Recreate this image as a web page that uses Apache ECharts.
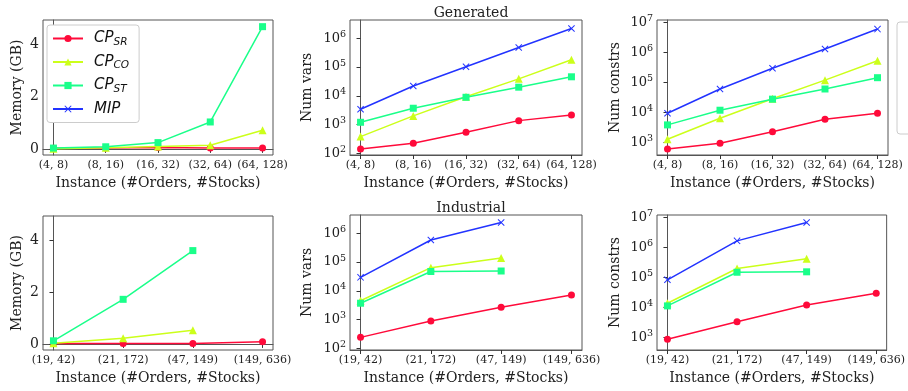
<!DOCTYPE html>
<html><head><meta charset="utf-8">
<script src="https://cdn.jsdelivr.net/npm/echarts@6/dist/echarts.min.js"></script>
<style>html,body{margin:0;padding:0;background:#fff}#c{width:908px;height:391px}</style>
</head><body><div id="c"></div>
<script>
// ---------- data ----------
const genCats = ['(4, 8)', '(8, 16)', '(16, 32)', '(32, 64)', '(64, 128)'];
const indCats = ['(19, 42)', '(21, 172)', '(47, 149)', '(149, 636)'];
const seriesNames = ['CP_SR', 'CP_CO', 'CP_ST', 'MIP'];

const genMemSR = [0.02, 0.03, 0.05, 0.03, 0.03];
const genMemCO = [0.0, 0.04, 0.09, 0.14, 0.71];
const genMemST = [0.03, 0.08, 0.24, 1.03, 4.68];

const genVarsSR = [141, 223, 540, 1370, 2150];
const genVarsCO = [380, 2000, 9300, 39000, 180000];
const genVarsST = [1200, 3700, 8900, 20000, 46000];
const genVarsMIP = [3400, 22000, 103000, 480000, 2200000];

const genConsSR = [615, 950, 2300, 6000, 9500];
const genConsCO = [1300, 6500, 29000, 120000, 530000];
const genConsST = [3900, 12000, 28000, 61000, 145000];
const genConsMIP = [9500, 61000, 300000, 1300000, 6000000];

const indMemSR = [0.02, 0.02, 0.02, 0.08];
const indMemCO = [0.03, 0.22, 0.53];
const indMemST = [0.12, 1.72, 3.60];

const indVarsSR = [240, 890, 2700, 7200];
const indVarsCO = [4500, 64000, 140000];
const indVarsST = [3700, 47000, 49000];
const indVarsMIP = [29500, 590000, 2400000];

const indConsSR = [880, 3400, 12200, 30000];
const indConsCO = [14000, 200000, 420000];
const indConsST = [11400, 150000, 155000];
const indConsMIP = [84000, 1660000, 6800000];

const memTicks = [0, 2, 4];
const varsTicks = [100, 1000, 10000, 100000, 1000000];
const consTicks = [1000, 10000, 100000, 1000000, 10000000];

// ---------- styles ----------
const colors = ['#ff0a3a', '#ccff1a', '#1aff8a', '#2233ff'];
const symbols = ['circle', 'triangle', 'rect',
  'path://M0,1L1,0L5,4L9,0L10,1L6,5L10,9L9,10L5,6L1,10L0,9L4,5Z'];
const symbolSizes = [7, 8, 7, 7];
const serif = 'DejaVu Serif';
const spine = '#555';

const panels = [
  {l: 43, t: 20, w: 230, h: 135, cats: genCats, log: false, ymin: -0.235, ymax: 4.935, ticks: memTicks,
   name: 'Memory (GB)', gap: 19, data: [genMemSR, genMemCO, genMemST, null]},
  {l: 350, t: 20, w: 232, h: 135, cats: genCats, log: true, ymin: Math.pow(10, 1.94), ymax: Math.pow(10, 6.64), ticks: varsTicks,
   name: 'Num vars', gap: 36, data: [genVarsSR, genVarsCO, genVarsST, genVarsMIP]},
  {l: 657, t: 20, w: 231, h: 135, cats: genCats, log: true, ymin: Math.pow(10, 2.59), ymax: Math.pow(10, 7.08), ticks: consTicks,
   name: 'Num constrs', gap: 35, data: [genConsSR, genConsCO, genConsST, genConsMIP]},
  {l: 43, t: 216, w: 230, h: 134, cats: indCats, log: false, ymin: -0.235, ymax: 4.935, ticks: memTicks,
   name: 'Memory (GB)', gap: 19, data: [indMemSR, indMemCO, indMemST, null]},
  {l: 350, t: 215, w: 232, h: 135, cats: indCats, log: true, ymin: Math.pow(10, 1.94), ymax: Math.pow(10, 6.64), ticks: varsTicks,
   name: 'Num vars', gap: 36, data: [indVarsSR, indVarsCO, indVarsST, indVarsMIP]},
  {l: 657, t: 215, w: 231, h: 135, cats: indCats, log: true, ymin: Math.pow(10, 2.59), ymax: Math.pow(10, 7.08), ticks: consTicks,
   name: 'Num constrs', gap: 35, data: [indConsSR, indConsCO, indConsST, indConsMIP]}
];

const grid = [], xAxis = [], yAxis = [], series = [];
panels.forEach((p, k) => {
  grid.push({left: p.l, top: p.t, width: p.w, height: p.h, show: true, borderColor: spine, borderWidth: 1, backgroundColor: '#fff'});
  const n = p.cats.length;
  const pad = (n - 1) * 0.05;
  const idx = p.cats.map((c, i) => i);
  xAxis.push({
    type: 'value', gridIndex: k, min: -pad, max: n - 1 + pad,
    name: 'Instance (#Orders, #Stocks)', nameLocation: 'middle', nameGap: 21,
    nameTextStyle: {fontFamily: serif, fontSize: 14, color: '#222'},
    axisLine: {show: true, lineStyle: {color: spine}},
    axisTick: {show: true, length: 4, customValues: idx, lineStyle: {color: '#333'}},
    axisLabel: {customValues: idx, fontFamily: serif, fontSize: 11, color: '#222', margin: 5,
      formatter: v => p.cats[Math.round(v)]},
    splitLine: {show: false}
  });
  yAxis.push({
    type: p.log ? 'log' : 'value', gridIndex: k, min: p.ymin, max: p.ymax,
    name: p.name, nameLocation: 'middle', nameGap: p.gap, nameRotate: 90,
    nameTextStyle: {fontFamily: serif, fontSize: 14, color: '#222'},
    axisLine: {show: true, lineStyle: {color: spine}},
    axisTick: {show: true, length: 4, customValues: p.ticks, lineStyle: {color: '#333'}},
    axisLabel: {customValues: p.ticks, fontFamily: serif, fontSize: 14, color: '#222', margin: 4,
      formatter: p.log ? (v => '{b|10}{p|' + Math.round(Math.log10(v)) + '}') : (v => String(v)),
      rich: {b: {fontFamily: serif, fontSize: 13, lineHeight: 18, color: '#222'},
             p: {fontFamily: serif, fontSize: 9.5, lineHeight: 10, verticalAlign: 'top', color: '#222'}}},
    splitLine: {show: false}
  });
  p.data.forEach((arr, s) => {
    if (!arr) return;
    series.push({
      type: 'line', name: seriesNames[s], xAxisIndex: k, yAxisIndex: k,
      data: arr.map((v, i) => [i, v]),
      symbol: symbols[s], symbolSize: symbolSizes[s], showSymbol: true,
      lineStyle: {width: 1.5, color: colors[s]},
      itemStyle: {color: colors[s]},
      z: 2 + s, animation: false
    });
  });
});

const chart = echarts.init(document.getElementById('c'), null, {renderer: 'canvas'});
chart.setOption({
  animation: false,
  backgroundColor: '#fff',
  title: [
    {text: 'Generated', left: 466, top: 1, textAlign: 'center', textStyle: {fontFamily: serif, fontSize: 14, fontWeight: 'normal', color: '#222'}},
    {text: 'Industrial', left: 466, top: 196, textAlign: 'center', textStyle: {fontFamily: serif, fontSize: 14, fontWeight: 'normal', color: '#222'}}
  ],
  legend: {
    data: seriesNames, orient: 'vertical', left: 47, top: 25,
    padding: [6, 10, 6, 5], itemWidth: 30, itemHeight: 9, itemGap: 7,
    borderColor: '#ccc', borderWidth: 1, borderRadius: 3, backgroundColor: '#fff',
    formatter: name => name === 'MIP' ? '{i|MIP}' : '{i|CP}{s|' + name.split('_')[1] + '}',
    textStyle: {padding: [0, 0, 0, 6], rich: {
      i: {fontFamily: 'DejaVu Sans', fontStyle: 'italic', fontSize: 15, lineHeight: 18, color: '#111'},
      s: {fontFamily: 'DejaVu Sans', fontStyle: 'italic', fontSize: 10.5, lineHeight: 10, verticalAlign: 'bottom', color: '#111'}
    }}
  },
  graphic: [{type: 'rect', shape: {x: 897, y: 22, width: 30, height: 112, r: 3},
    style: {fill: '#fff', stroke: '#ccc', lineWidth: 1}}],
  grid, xAxis, yAxis, series
});
</script></body></html>
